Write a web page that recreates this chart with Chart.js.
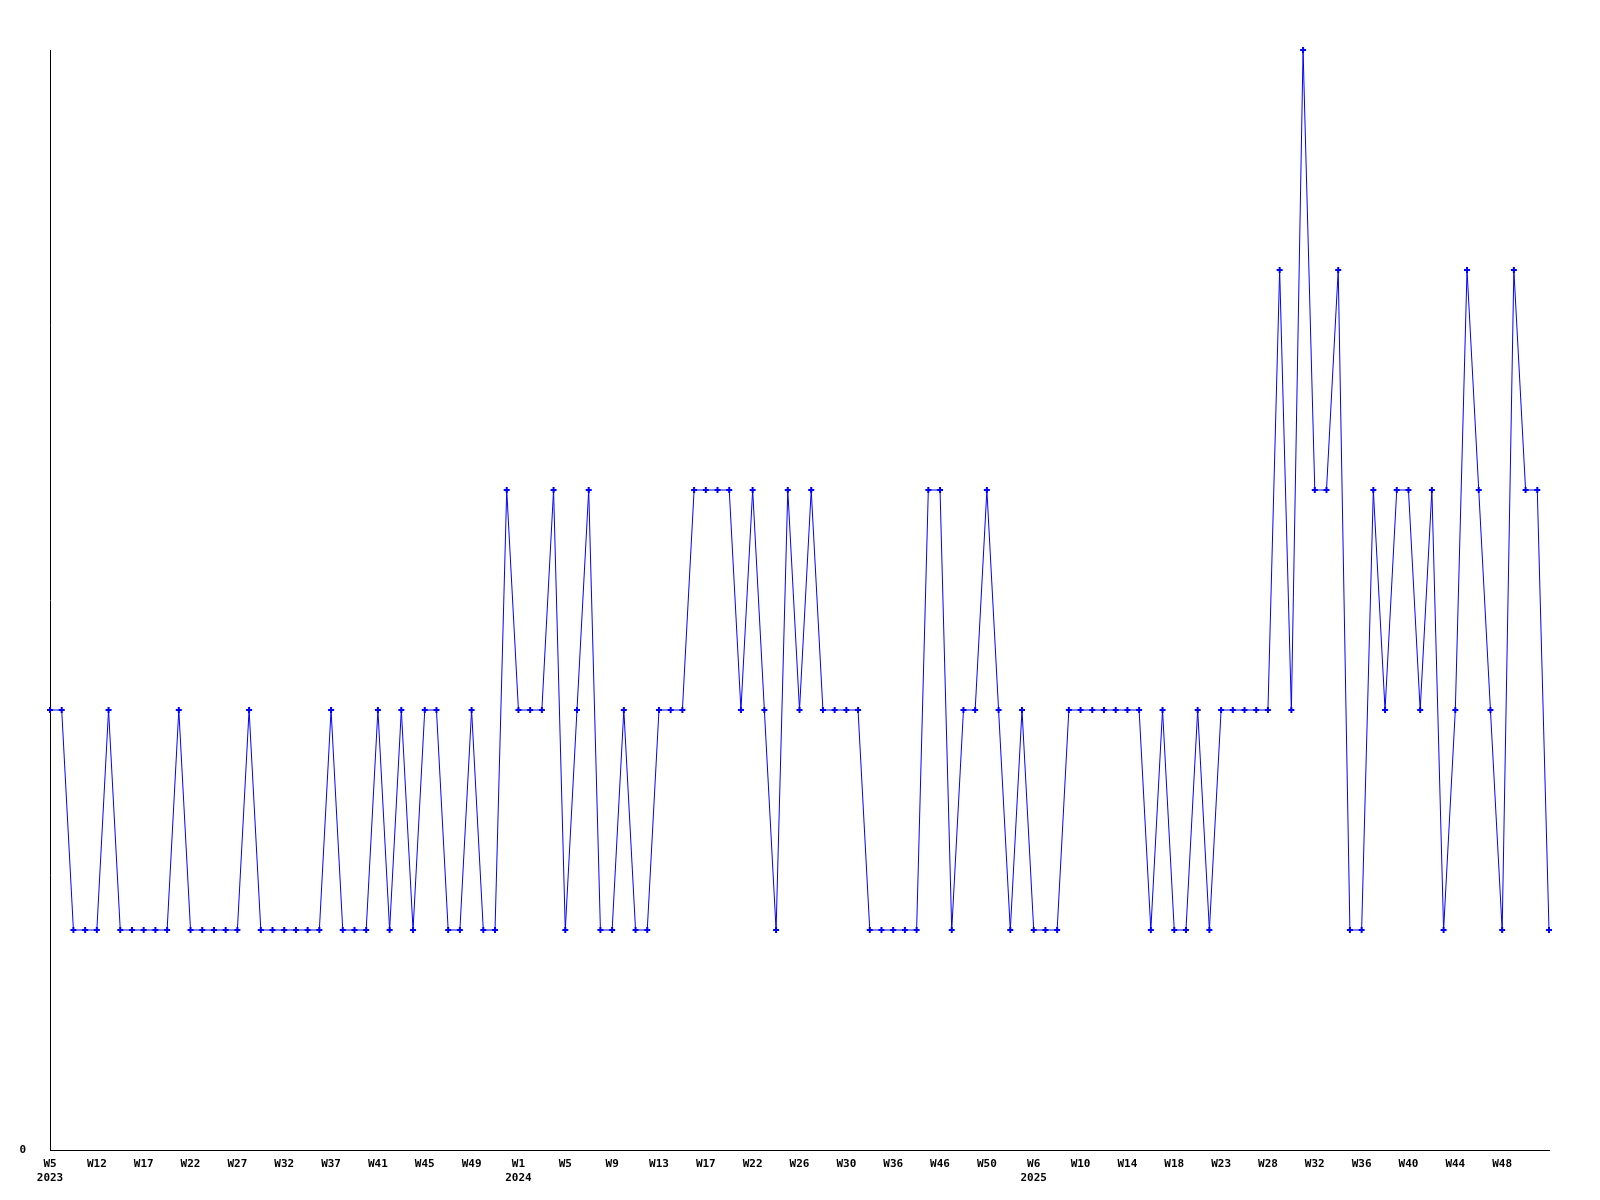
<!DOCTYPE html>
<html>
<head>
<meta charset="utf-8">
<script src="https://cdn.jsdelivr.net/npm/chart.js@4/dist/chart.umd.min.js"></script>
<style>
  html, body { margin: 0; padding: 0; background: #ffffff; }
  #wrap { width: 1600px; height: 1200px; }
</style>
</head>
<body>
<div id="wrap"><canvas id="c" width="1600" height="1200"></canvas></div>
<script>
// ---- data ----
const years = [2023, 2024, 2025];
const weeks2023 = [5,6,8,10,12,13,14,16,17,18,19,20,22,23,24,25,27,28,29,30,32,33,34,35,37,38,39,40,41,42,43,44,45,46,47,48,49,50,51,52];
const weeks2024 = [1,2,3,4,5,6,7,8,9,10,11,12,13,14,15,16,17,18,20,21,22,23,24,25,26,27,28,29,30,31,33,34,36,38,42,44,46,47,48,49,50,51,52];
const weeks2025 = [3,6,7,8,9,10,11,12,13,14,15,16,17,18,19,20,22,23,24,25,26,28,29,30,31,32,33,34,35,36,37,38,39,40,41,42,43,44,45,46,47,48,49,50,51,52];
const values = [
  2,2,1,1,1,2,1,1,1,1,
  1,2,1,1,1,1,1,2,1,1,
  1,1,1,1,2,1,1,1,2,1,
  2,1,2,2,1,1,2,1,1,3,
  2,2,2,3,1,2,3,1,1,2,
  1,1,2,2,2,3,3,3,3,2,
  3,2,1,3,2,3,2,2,2,2,
  1,1,1,1,1,3,3,1,2,2,
  3,2,1,2,1,1,1,2,2,2,
  2,2,2,2,1,2,1,1,2,1,
  2,2,2,2,2,4,2,5,3,3,
  4,1,1,3,2,3,3,2,3,1,
  2,4,3,2,1,4,3,3,1
];
const yTickLabels = ['0'];
const tickEvery = 4;

// ---- build categories ----
const weekLabels = [];
const yearOf = [];
[weeks2023, weeks2024, weeks2025].forEach((arr, yi) => {
  arr.forEach(w => { weekLabels.push('W' + w); yearOf.push(years[yi]); });
});

const FONT = { family: '"DejaVu Sans Mono", "Liberation Mono", monospace', size: 11, weight: 'bold', lineHeight: 14 / 11 };

new Chart(document.getElementById('c'), {
  type: 'line',
  data: {
    labels: weekLabels,
    datasets: [{
      data: values,
      borderColor: '#0000ff',
      backgroundColor: '#0000ff',
      borderWidth: 1,
      pointStyle: 'cross',
      pointRadius: 3,
      pointBorderWidth: 2,
      pointBorderColor: '#0000ff',
      tension: 0,
      clip: false
    }]
  },
  options: {
    responsive: false,
    animation: false,
    events: [],
    layout: { padding: { top: 50, right: 51, left: 0, bottom: 0 } },
    plugins: { legend: { display: false }, tooltip: { enabled: false } },
    scales: {
      x: {
        type: 'category',
        offset: false,
        grid: { display: false, drawTicks: false },
        border: { display: true, color: '#000000', width: 1 },
        ticks: {
          autoSkip: false,
          maxRotation: 0,
          minRotation: 0,
          padding: 7,
          color: '#000000',
          font: FONT,
          callback: function (v, i) {
            if (i % tickEvery !== 0 || i === weekLabels.length - 1) return null;
            const prev = i - tickEvery;
            if (prev < 0 || yearOf[prev] !== yearOf[i]) return [weekLabels[i], String(yearOf[i])];
            return weekLabels[i];
          }
        },
        afterFit: s => { s.height = 50; }
      },
      y: {
        min: 0,
        max: 5,
        grid: { display: false, drawTicks: false },
        border: { display: true, color: '#000000', width: 1 },
        ticks: {
          stepSize: 1,
          padding: 24,
          color: '#000000',
          font: FONT,
          callback: (v) => (v === 0 ? yTickLabels[0] : null)
        },
        afterFit: s => { s.width = 50; }
      }
    }
  }
});
</script>
</body>
</html>
